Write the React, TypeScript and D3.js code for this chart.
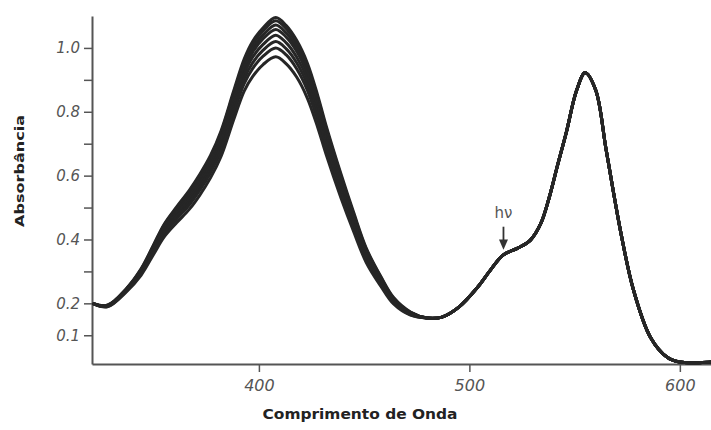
import React, { useEffect, useRef } from 'react';
import * as d3 from 'd3';

// Soret band region: a family of spectra that diverge around the 408 nm peak
const familyWavelengths = [321, 328, 337, 344, 350, 355, 361, 367, 372, 377, 382, 388, 393, 397, 402, 408, 413, 418, 423, 428, 432, 439, 445, 451, 458, 464, 472, 480];

const curve1 = [0.200, 0.194, 0.246, 0.308, 0.384, 0.448, 0.503, 0.555, 0.605, 0.663, 0.740, 0.865, 0.965, 1.020, 1.063, 1.095, 1.070, 1.023, 0.953, 0.850, 0.755, 0.605, 0.485, 0.373, 0.283, 0.218, 0.173, 0.154];
const curve2 = [0.200, 0.194, 0.245, 0.306, 0.382, 0.445, 0.499, 0.550, 0.600, 0.657, 0.734, 0.858, 0.957, 1.011, 1.054, 1.085, 1.060, 1.014, 0.944, 0.842, 0.748, 0.599, 0.480, 0.369, 0.281, 0.216, 0.172, 0.154];
const curve3 = [0.200, 0.193, 0.244, 0.304, 0.378, 0.440, 0.494, 0.544, 0.593, 0.650, 0.725, 0.848, 0.946, 0.999, 1.041, 1.072, 1.047, 1.001, 0.932, 0.831, 0.738, 0.591, 0.474, 0.364, 0.277, 0.214, 0.171, 0.154];
const curve4 = [0.200, 0.192, 0.243, 0.302, 0.375, 0.436, 0.488, 0.537, 0.586, 0.642, 0.716, 0.838, 0.935, 0.987, 1.029, 1.058, 1.034, 0.989, 0.920, 0.820, 0.728, 0.583, 0.467, 0.360, 0.274, 0.212, 0.170, 0.154];
const curve5 = [0.200, 0.192, 0.242, 0.299, 0.371, 0.430, 0.481, 0.528, 0.576, 0.632, 0.704, 0.825, 0.920, 0.971, 1.011, 1.040, 1.016, 0.971, 0.904, 0.805, 0.715, 0.571, 0.458, 0.353, 0.270, 0.209, 0.169, 0.154];
const curve6 = [0.200, 0.191, 0.240, 0.296, 0.366, 0.424, 0.473, 0.518, 0.565, 0.620, 0.691, 0.810, 0.904, 0.953, 0.993, 1.020, 0.997, 0.953, 0.886, 0.789, 0.700, 0.559, 0.448, 0.346, 0.265, 0.206, 0.167, 0.154];
const curve7 = [0.200, 0.190, 0.238, 0.293, 0.361, 0.417, 0.465, 0.509, 0.555, 0.609, 0.678, 0.796, 0.888, 0.935, 0.974, 1.000, 0.978, 0.934, 0.868, 0.773, 0.686, 0.547, 0.439, 0.338, 0.260, 0.203, 0.165, 0.154];
const curve8 = [0.200, 0.189, 0.236, 0.288, 0.354, 0.408, 0.453, 0.495, 0.540, 0.593, 0.660, 0.775, 0.865, 0.910, 0.948, 0.972, 0.950, 0.908, 0.843, 0.750, 0.665, 0.530, 0.425, 0.328, 0.253, 0.198, 0.163, 0.154];

const familyCurves = [curve1, curve2, curve3, curve4, curve5, curve6, curve7, curve8];

// common part of the spectrum after the curves meet
const tailWavelengths = [487, 495, 504, 510, 516, 523, 529, 534, 538, 542, 546, 551, 555, 560, 565, 572, 578, 586, 594, 600, 615];
const tailAbsorbance = [0.157, 0.188, 0.251, 0.304, 0.351, 0.373, 0.398, 0.451, 0.533, 0.635, 0.734, 0.868, 0.922, 0.868, 0.680, 0.420, 0.241, 0.094, 0.031, 0.016, 0.016];

const xTicks = [400, 500, 600];
const yTicksLabelled = [0.1, 0.2, 0.4, 0.6, 0.8, 1.0];
const yTicksMinor = [0.3, 0.5, 0.7, 0.9];

const App = () => {
    const chartRef = useRef<SVGSVGElement | null>(null);

    useEffect(() => {
        drawSpectrum(chartRef.current);
    }, []);

    const drawSpectrum = (element: SVGSVGElement | null) => {
        if (!element) return;
        const svg = d3.select(element);
        svg.selectAll('*').remove();

        const x = d3.scaleLinear().domain([320.7, 614.8]).range([92, 711]);
        const y = d3.scaleLinear().domain([0.01, 1.1]).range([364, 16]);

        const axisColor = '#555';
        const tickFont = '"DejaVu Sans", sans-serif';

        // y axis
        const allY = [...yTicksLabelled, ...yTicksMinor].sort((a, b) => a - b);
        const yAxis = svg.append('g')
            .attr('transform', `translate(${x(320.7)},0)`)
            .call(d3.axisLeft(y)
                .tickValues(allY)
                .tickSize(8)
                .tickSizeOuter(0)
                .tickPadding(4)
                .tickFormat(d => yTicksLabelled.includes(+d) ? d3.format('.1f')(+d) : ''));
        yAxis.select('.domain').attr('stroke', axisColor).attr('stroke-width', 2);
        yAxis.selectAll('line').attr('stroke', axisColor).attr('stroke-width', 1.5);
        yAxis.selectAll('text')
            .attr('fill', axisColor)
            .style('font-family', tickFont)
            .style('font-style', 'italic')
            .style('font-size', '15px');

        // x axis
        const xAxis = svg.append('g')
            .attr('transform', `translate(0,${y(0.01)})`)
            .call(d3.axisBottom(x)
                .tickValues(xTicks)
                .tickSize(8)
                .tickSizeOuter(0)
                .tickPadding(8)
                .tickFormat(d3.format('d')));
        xAxis.select('.domain').attr('stroke', axisColor).attr('stroke-width', 2);
        xAxis.selectAll('line').attr('stroke', axisColor).attr('stroke-width', 1.5);
        xAxis.selectAll('text')
            .attr('fill', axisColor)
            .style('font-family', tickFont)
            .style('font-style', 'italic')
            .style('font-size', '16px');

        // spectra
        const line = d3.line<[number, number]>()
            .x(d => x(d[0]))
            .y(d => y(d[1]))
            .curve(d3.curveCatmullRom.alpha(0.5));

        const tail: [number, number][] = tailWavelengths.map((w, i) => [w, tailAbsorbance[i]]);

        familyCurves.forEach(curve => {
            const pts: [number, number][] = familyWavelengths.map((w, i) => [w, curve[i]]);
            svg.append('path')
                .datum(pts.concat(tail))
                .attr('fill', 'none')
                .attr('stroke', '#262626')
                .attr('stroke-width', 3)
                .attr('stroke-linejoin', 'round')
                .attr('d', line);
        });

        // h-nu annotation with arrow
        const ax = x(516.2);
        svg.append('text')
            .attr('x', ax)
            .attr('y', y(0.468))
            .attr('text-anchor', 'middle')
            .attr('fill', axisColor)
            .style('font-family', tickFont)
            .style('font-size', '15px')
            .text('hν');
        svg.append('line')
            .attr('x1', ax).attr('x2', ax)
            .attr('y1', y(0.44)).attr('y2', y(0.39))
            .attr('stroke', '#333')
            .attr('stroke-width', 1.8);
        svg.append('path')
            .attr('d', `M${ax - 4.5},${y(0.40)} L${ax + 4.5},${y(0.40)} L${ax},${y(0.368)} Z`)
            .attr('fill', '#333');

        // axis titles
        svg.append('text')
            .attr('transform', 'translate(24,171) rotate(-90)')
            .attr('text-anchor', 'middle')
            .attr('textLength', 112)
            .attr('lengthAdjust', 'spacingAndGlyphs')
            .attr('fill', '#222')
            .style('font-family', '"DejaVu Sans", sans-serif')
            .style('font-weight', 'bold')
            .style('font-size', '13px')
            .text('Absorbância');

        svg.append('text')
            .attr('x', 360)
            .attr('y', 419)
            .attr('text-anchor', 'middle')
            .attr('textLength', 195)
            .attr('lengthAdjust', 'spacingAndGlyphs')
            .attr('fill', '#222')
            .style('font-family', '"DejaVu Sans", sans-serif')
            .style('font-weight', 'bold')
            .style('font-size', '14px')
            .text('Comprimento de Onda');
    };

    return (
        <svg
            ref={chartRef}
            width={711}
            height={430}
            style={{ position: 'absolute', left: 0, top: 0, background: '#fff' }}
        />
    );
};

export default App;
